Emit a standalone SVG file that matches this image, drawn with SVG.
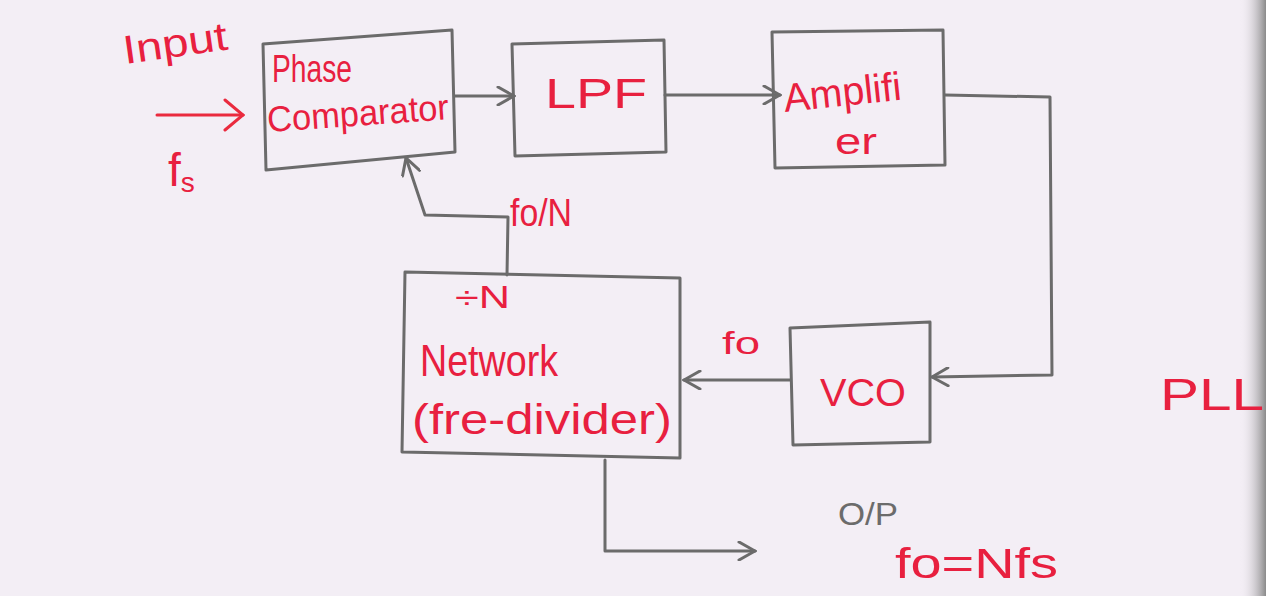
<svg xmlns="http://www.w3.org/2000/svg" width="1266" height="596" viewBox="0 0 1266 596">
<defs>
<style>
.box{fill:none;stroke:#6b6b6b;stroke-width:3;stroke-linejoin:round}
.wire{fill:none;stroke:#6b6b6b;stroke-width:3;stroke-linejoin:round;stroke-linecap:round}
.red{fill:#e8203f;font-family:"Liberation Sans",Arial,sans-serif}
.gray{fill:#6b6b6b;font-family:"Liberation Sans",Arial,sans-serif}
.rwire{fill:none;stroke:#ea2a3e;stroke-width:3;stroke-linecap:round;stroke-linejoin:round}
</style>
<marker id="arr" viewBox="0 0 20 20" refX="18" refY="10" markerWidth="20" markerHeight="20" markerUnits="userSpaceOnUse" orient="auto">
<path d="M2,1 L18,10 L2,19" fill="none" stroke="#6b6b6b" stroke-width="3" stroke-linecap="round"/>
</marker>
<marker id="rarr" viewBox="0 0 24 34" refX="22" refY="17" markerWidth="24" markerHeight="34" markerUnits="userSpaceOnUse" orient="auto">
<path d="M4,2 L22,17 L4,32" fill="none" stroke="#ea2a3e" stroke-width="3" stroke-linecap="round"/>
</marker>
<linearGradient id="edge" x1="0" y1="0" x2="1" y2="0">
<stop offset="0" stop-color="#f2edf4" stop-opacity="0"/>
<stop offset="1" stop-color="#8a8a8a"/>
</linearGradient>
</defs>
<rect width="1266" height="596" fill="#f3eef5"/>
<rect x="1240" y="0" width="26" height="596" fill="url(#edge)"/>

<g id="connectors">
<path id="input-arrow" class="rwire" d="M157,115 L243,115" marker-end="url(#rarr)"/>
<path class="wire" d="M455,96 L514,96" marker-end="url(#arr)"/>
<path class="wire" d="M665,95 L780,95" marker-end="url(#arr)"/>
<path class="wire" d="M945,95 L1050,97 L1052,375 L932,377" marker-end="url(#arr)"/>
<path class="wire" d="M790,380 L684,380" marker-end="url(#arr)"/>
<path class="wire" d="M507,275 L508,217 L425,215 L406,158" marker-end="url(#arr)"/>
<path class="wire" d="M605,460 L605,551 L755,551" marker-end="url(#arr)"/>
</g>

<g id="phase-comparator">
<polygon class="box" points="263,44 452,30 455,152 266,170"/>
<text class="red" x="272" y="82" font-size="38" textLength="80" lengthAdjust="spacingAndGlyphs">Phase</text>
<text class="red" x="268" y="132" font-size="36" textLength="182" lengthAdjust="spacingAndGlyphs" transform="rotate(-4 268 132)">Comparator</text>
</g>

<g id="lpf">
<polygon class="box" points="512,44 664,40 666,152 515,156"/>
<text class="red" x="545" y="108" font-size="42" textLength="102" lengthAdjust="spacingAndGlyphs">LPF</text>
</g>

<g id="amplifier">
<polygon class="box" points="772,32 943,30 945,165 775,168"/>
<text class="red" x="785" y="112" font-size="40" textLength="118" lengthAdjust="spacingAndGlyphs" transform="rotate(-6 785 112)">Amplifi</text>
<text class="red" x="835" y="154" font-size="36" textLength="42" lengthAdjust="spacingAndGlyphs">er</text>
</g>

<g id="network">
<polygon class="box" points="405,272 680,278 680,458 402,452"/>
<text class="red" x="455" y="308" font-size="32" textLength="55" lengthAdjust="spacingAndGlyphs">÷N</text>
<text class="red" x="420" y="376" font-size="44" textLength="138" lengthAdjust="spacingAndGlyphs">Network</text>
<text class="red" x="412" y="434" font-size="42" textLength="260" lengthAdjust="spacingAndGlyphs">(fre-divider)</text>
</g>

<g id="vco">
<polygon class="box" points="790,328 930,322 930,442 793,445"/>
<text class="red" x="820" y="406" font-size="38" textLength="86" lengthAdjust="spacingAndGlyphs">VCO</text>
</g>

<g id="labels">
<text class="red" x="125" y="64" font-size="40" textLength="105" lengthAdjust="spacingAndGlyphs" transform="rotate(-8 125 64)">Input</text>
<text class="red" x="168" y="186" font-size="46">f<tspan font-size="28" dy="6">s</tspan></text>
<text class="red" x="510" y="226" font-size="38" textLength="62" lengthAdjust="spacingAndGlyphs">fo/N</text>
<text class="red" x="722" y="354" font-size="32" textLength="38" lengthAdjust="spacingAndGlyphs">fo</text>
<text class="red" x="1160" y="410" font-size="44" textLength="104" lengthAdjust="spacingAndGlyphs">PLL</text>
<text class="gray" x="838" y="525" font-size="32" textLength="60" lengthAdjust="spacingAndGlyphs">O/P</text>
<text class="red" x="895" y="578" font-size="42" textLength="163" lengthAdjust="spacingAndGlyphs">fo=Nfs</text>
</g>
</svg>
